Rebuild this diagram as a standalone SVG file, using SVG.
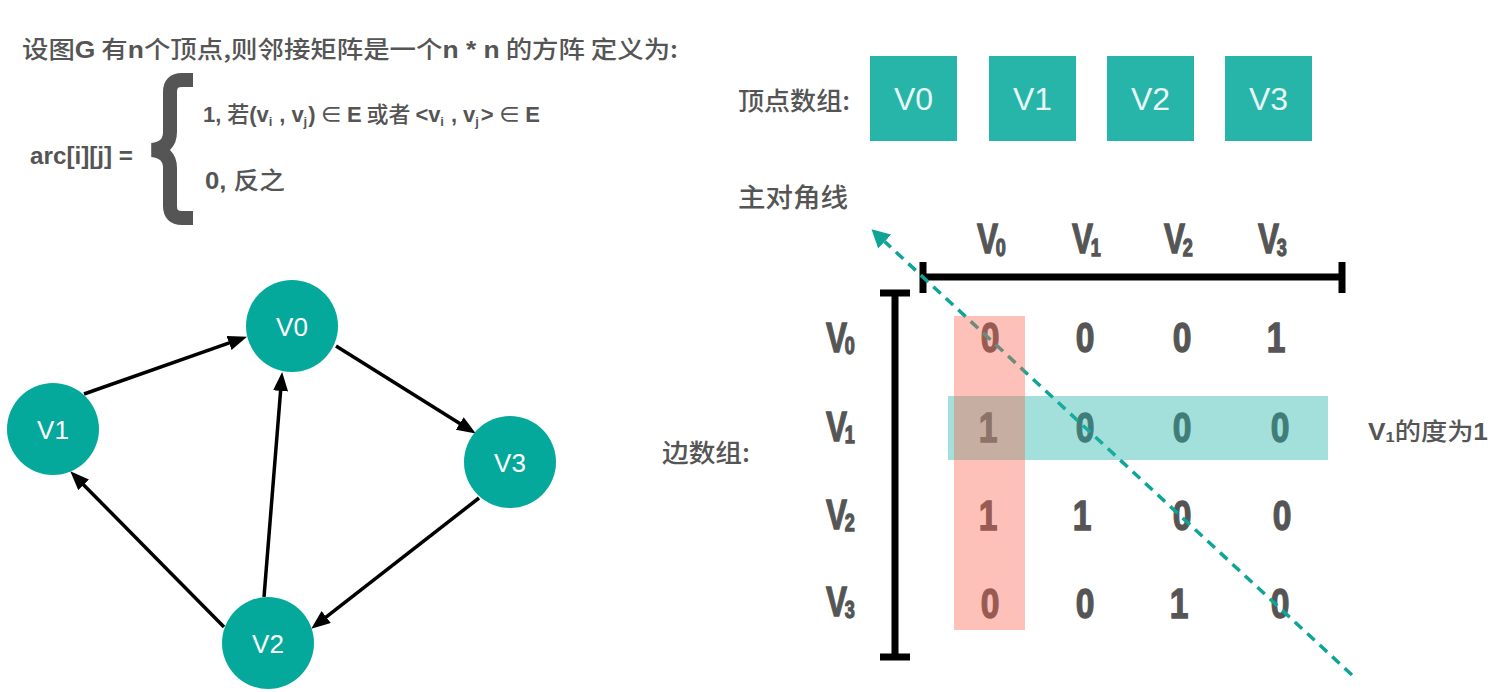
<svg xmlns="http://www.w3.org/2000/svg" width="1502" height="692" viewBox="0 0 1502 692">
<style>
.cn{font-family:"Noto Sans CJK SC","Liberation Sans",sans-serif;fill:#555;font-weight:500}
.lb{font-family:"Liberation Sans","Noto Sans CJK SC",sans-serif;font-weight:bold}
.cd{font-family:"Liberation Sans",sans-serif;font-weight:bold;font-size:42px;fill:#555;stroke:#555;stroke-width:1.3}
.sub{font-size:24px}
.mx{font-family:"Liberation Sans",sans-serif;font-weight:bold;font-size:42px;fill:#555;stroke:#555;stroke-width:1.3;text-anchor:middle}
.gnode{fill:#05a99b}
.glabel{font-family:"Liberation Sans",sans-serif;font-size:26px;fill:#fff;text-anchor:middle}
.box{fill:#27b4a9}
.blabel{font-family:"Liberation Sans",sans-serif;font-size:32px;fill:#e8f7f5;text-anchor:middle}
.edge{stroke:#000;stroke-width:3.5;fill:none;marker-end:url(#ah)}
.bar{stroke:#000;stroke-width:7;fill:none}
</style>
<defs>
<marker id="ah" markerUnits="userSpaceOnUse" markerWidth="22" markerHeight="16" refX="10" refY="7.5" orient="auto">
<path d="M0,0 L19,7.5 L0,15 Z" fill="#000"/>
</marker>
<marker id="th" markerUnits="userSpaceOnUse" markerWidth="20" markerHeight="20" refX="0" refY="9.5" orient="auto">
<path d="M0,0 L18,9.5 L0,19 Z" fill="#0ea597"/>
</marker>
</defs>
<rect width="1502" height="692" fill="#fff"/>

<!-- definition text -->
<g id="definition">
<text x="22" y="58" class="cn" font-size="24" textLength="656" lengthAdjust="spacingAndGlyphs">设图<tspan class="lb">G</tspan> 有<tspan class="lb">n</tspan>个顶点,则邻接矩阵是一个<tspan class="lb">n * n</tspan> 的方阵 定义为:</text>
<text x="30" y="164" class="lb" font-size="23" fill="#555" textLength="103" lengthAdjust="spacingAndGlyphs">arc[i][j] =</text>
<path d="M193,80 L182,80 Q170,80 170,92 L170,132 Q170,148 152,150 Q170,152 170,168 L170,206 Q170,218 182,218 L193,218" stroke="#555" stroke-width="14" fill="none"/>
<text x="203" y="122" class="cn" font-size="22" textLength="337" lengthAdjust="spacing"><tspan class="lb">1, </tspan>若<tspan class="lb">(v</tspan><tspan class="lb" font-size="13" dy="4">i</tspan><tspan class="lb" dx="1" dy="-4"> , v</tspan><tspan class="lb" font-size="13" dy="4">j</tspan><tspan class="lb" dx="1" dy="-4">)</tspan> ∈ <tspan class="lb">E</tspan> 或者 <tspan class="lb">&lt;v</tspan><tspan class="lb" font-size="13" dy="4">i</tspan><tspan class="lb" dx="1" dy="-4"> , v</tspan><tspan class="lb" font-size="13" dy="4">j</tspan><tspan class="lb" dx="2" dy="-4">&gt;</tspan> ∈ <tspan class="lb">E</tspan></text>
<text x="205" y="189" class="cn" font-size="24" textLength="80" lengthAdjust="spacingAndGlyphs"><tspan class="lb">0, </tspan>反之</text>
</g>

<!-- graph -->
<g id="connectors">
<line class="edge" x1="84" y1="394" x2="238.5" y2="339.7"/>
<line class="edge" x1="336" y1="346" x2="468.2" y2="428.8"/>
<line class="edge" x1="264" y1="597" x2="281.4" y2="381"/>
<line class="edge" x1="224" y1="627" x2="76.6" y2="477.7"/>
<line class="edge" x1="479" y1="498" x2="318.3" y2="623.1"/>
</g>
<g id="node-v0"><circle class="gnode" cx="292" cy="326" r="46"/><text class="glabel" x="292" y="336">V0</text></g>
<g id="node-v1"><circle class="gnode" cx="53" cy="429" r="46"/><text class="glabel" x="53" y="439">V1</text></g>
<g id="node-v2"><circle class="gnode" cx="268" cy="643" r="46"/><text class="glabel" x="268" y="653">V2</text></g>
<g id="node-v3"><circle class="gnode" cx="510" cy="462" r="46"/><text class="glabel" x="510" y="472">V3</text></g>

<!-- vertex array -->
<g id="vertex-array">
<text x="738" y="110" class="cn" font-size="25" textLength="112" lengthAdjust="spacingAndGlyphs">顶点数组:</text>
<g id="box-v0"><rect class="box" x="870" y="56" width="87" height="85"/><text class="blabel" x="913.5" y="110">V0</text></g>
<g id="box-v1"><rect class="box" x="989" y="56" width="87" height="85"/><text class="blabel" x="1032.5" y="110">V1</text></g>
<g id="box-v2"><rect class="box" x="1107" y="56" width="87" height="85"/><text class="blabel" x="1150.5" y="110">V2</text></g>
<g id="box-v3"><rect class="box" x="1225" y="56" width="87" height="85"/><text class="blabel" x="1268.5" y="110">V3</text></g>
</g>

<text x="738" y="207" class="cn" font-size="26" textLength="110" lengthAdjust="spacingAndGlyphs">主对角线</text>
<text x="662" y="462" class="cn" font-size="25" textLength="88" lengthAdjust="spacingAndGlyphs">边数组:</text>

<!-- matrix -->
<g id="matrix">
<path class="bar" d="M922,277 L1343,277 M923,262 L923,293 M1342,262 L1342,293"/>
<path class="bar" d="M895,293 L895,657 M880,293 L910,293 M880,657 L910,657" stroke-width="8"/>

<text class="cd" transform="translate(977,253) scale(0.75,1)">V<tspan class="sub" dx="-3" dy="3">0</tspan></text>
<text class="cd" transform="translate(1072,253) scale(0.75,1)">V<tspan class="sub" dx="-3" dy="3">1</tspan></text>
<text class="cd" transform="translate(1164,253) scale(0.75,1)">V<tspan class="sub" dx="-3" dy="3">2</tspan></text>
<text class="cd" transform="translate(1258,253) scale(0.75,1)">V<tspan class="sub" dx="-3" dy="3">3</tspan></text>

<text class="cd" transform="translate(826,352) scale(0.75,1)">V<tspan class="sub" dx="-3" dy="2">0</tspan></text>
<text class="cd" transform="translate(826,441) scale(0.75,1)">V<tspan class="sub" dx="-3" dy="2">1</tspan></text>
<text class="cd" transform="translate(826,529) scale(0.75,1)">V<tspan class="sub" dx="-3" dy="2">2</tspan></text>
<text class="cd" transform="translate(826,616) scale(0.75,1)">V<tspan class="sub" dx="-3" dy="2">3</tspan></text>

<text class="mx" transform="translate(990,352) scale(0.8,1)">0</text>
<text class="mx" transform="translate(1085,352) scale(0.8,1)">0</text>
<text class="mx" transform="translate(1182,352) scale(0.8,1)">0</text>
<text class="mx" transform="translate(1276,352) scale(0.8,1)">1</text>

<text class="mx" transform="translate(988,442) scale(0.8,1)">1</text>
<text class="mx" transform="translate(1085,442) scale(0.8,1)">0</text>
<text class="mx" transform="translate(1182,442) scale(0.8,1)">0</text>
<text class="mx" transform="translate(1280,442) scale(0.8,1)">0</text>

<text class="mx" transform="translate(988,530) scale(0.8,1)">1</text>
<text class="mx" transform="translate(1082,530) scale(0.8,1)">1</text>
<text class="mx" transform="translate(1182,530) scale(0.8,1)">0</text>
<text class="mx" transform="translate(1282,530) scale(0.8,1)">0</text>

<text class="mx" transform="translate(990,618) scale(0.8,1)">0</text>
<text class="mx" transform="translate(1085,618) scale(0.8,1)">0</text>
<text class="mx" transform="translate(1179,618) scale(0.8,1)">1</text>
<text class="mx" transform="translate(1280,618) scale(0.8,1)">0</text>

<line x1="1352" y1="675" x2="884.7" y2="241.6" stroke="#0ea597" stroke-width="3.5" stroke-dasharray="10 7" marker-end="url(#th)"/>

<rect x="948" y="396" width="380" height="64" fill="#26b4aa" fill-opacity="0.42"/>
<rect x="954" y="316" width="71" height="314" fill="#fa6450" fill-opacity="0.4"/>

<text x="1368" y="440" class="cn" font-size="24" textLength="120" lengthAdjust="spacingAndGlyphs"><tspan class="lb">V</tspan><tspan class="lb" font-size="15" dy="2">1</tspan><tspan dy="-2">的度为</tspan><tspan class="lb">1</tspan></text>
</g>
</svg>
